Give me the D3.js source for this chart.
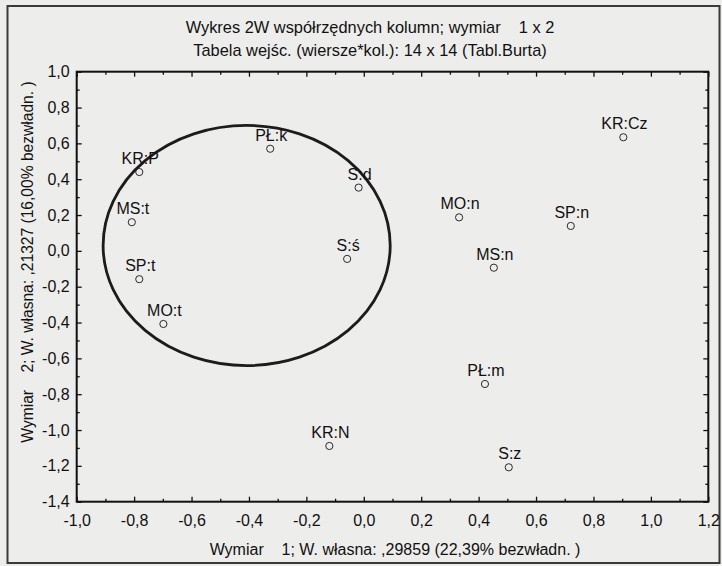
<!DOCTYPE html>
<html>
<head>
<meta charset="utf-8">
<script src="https://cdn.jsdelivr.net/npm/d3@7"></script>
<style>
  body { margin: 0; background: #ededeb; }
  svg { display: block; font-family: "Liberation Sans", Arial, sans-serif; }
  text { white-space: pre; fill: #111; }
</style>
</head>
<body>
<svg id="chart" width="722" height="566"></svg>
<script>
// column points (dimension 1 / dimension 2)
const labels = ["KR:Cz", "PŁ:k", "KR:P", "S:d", "MS:t", "MO:n", "SP:n", "S:ś", "SP:t", "MS:n", "MO:t", "PŁ:m", "KR:N", "S:z"];
const dim1 = [0.904, -0.326, -0.782, -0.018, -0.808, 0.332, 0.721, -0.058, -0.782, 0.453, -0.698, 0.422, -0.120, 0.505];
const dim2 = [0.634, 0.570, 0.440, 0.353, 0.160, 0.187, 0.139, -0.045, -0.158, -0.094, -0.408, -0.743, -1.089, -1.208];

const xTicks = [-1.0, -0.8, -0.6, -0.4, -0.2, 0.0, 0.2, 0.4, 0.6, 0.8, 1.0, 1.2];
const yTicks = [1.0, 0.8, 0.6, 0.4, 0.2, 0.0, -0.2, -0.4, -0.6, -0.8, -1.0, -1.2, -1.4];
const xMinor = [-0.9, -0.7, -0.5, -0.3, -0.1, 0.1, 0.3, 0.5, 0.7, 0.9, 1.1];
const yMinor = [0.9, 0.7, 0.5, 0.3, 0.1, -0.1, -0.3, -0.5, -0.7, -0.9, -1.1, -1.3];

// hand-drawn grouping ellipse, in data units
const ellCx = -0.408, ellCy = 0.030, ellRx = 0.50, ellRy = 0.67;

const titleLines = [
  "Wykres 2W współrzędnych kolumn; wymiar    1 x 2",
  "Tabela wejśc. (wiersze*kol.): 14 x 14 (Tabl.Burta)"
];
const xTitle = "Wymiar    1; W. własna: ,29859 (22,39% bezwładn. )";
const yTitle = "Wymiar    2; W. własna: ,21327 (16,00% bezwładn. )";

const svg = d3.select("#chart");
const m = { left: 76.7, right: 708.3, top: 71.7, bottom: 501.7 };

const x = d3.scaleLinear().domain([-1, 1.2]).range([m.left, m.right]);
const y = d3.scaleLinear().domain([-1.4, 1.0]).range([m.bottom, m.top]);
const fmt = d3.formatLocale({ decimal: ",", thousands: " ", grouping: [3], currency: ["", ""], minus: "-" }).format(".1f");

// outer frame
svg.append("rect").attr("x", 7.5).attr("y", 6).attr("width", 712).attr("height", 557)
  .attr("fill", "none").attr("stroke", "#3a3a3a").attr("stroke-width", 2);

// titles
svg.selectAll("text.title").data(titleLines).join("text").attr("class", "title")
  .attr("x", 370).attr("y", (d, i) => 33 + i * 23)
  .attr("text-anchor", "middle").attr("font-size", 16.4).text(d => d);

// axes: labelled majors, inward ticks
const styleAxis = g => { g.select(".domain").remove(); g.selectAll("line").attr("stroke", "#111").attr("stroke-width", 1.3); };
const styleText = g => g.selectAll("text").attr("font-size", 16).attr("font-family", null).attr("fill", "#111");

svg.append("g").attr("transform", `translate(0,${m.bottom})`)
  .call(d3.axisBottom(x).tickValues(xTicks).tickFormat(fmt).tickSizeInner(-5).tickPadding(13))
  .call(styleAxis).call(styleText);
svg.append("g").attr("transform", `translate(${m.left},0)`)
  .call(d3.axisLeft(y).tickValues(yTicks).tickFormat(fmt).tickSizeInner(-5).tickPadding(7))
  .call(styleAxis).call(styleText);
svg.append("g").attr("transform", `translate(0,${m.top})`)
  .call(d3.axisTop(x).tickValues(xTicks).tickFormat("").tickSizeInner(-5)).call(styleAxis);
svg.append("g").attr("transform", `translate(${m.right},0)`)
  .call(d3.axisRight(y).tickValues(yTicks).tickFormat("").tickSizeInner(-5)).call(styleAxis);

// minor ticks
svg.append("g").attr("transform", `translate(0,${m.bottom})`)
  .call(d3.axisBottom(x).tickValues(xMinor).tickFormat("").tickSizeInner(-3)).call(styleAxis);
svg.append("g").attr("transform", `translate(0,${m.top})`)
  .call(d3.axisTop(x).tickValues(xMinor).tickFormat("").tickSizeInner(-3)).call(styleAxis);
svg.append("g").attr("transform", `translate(${m.left},0)`)
  .call(d3.axisLeft(y).tickValues(yMinor).tickFormat("").tickSizeInner(-3)).call(styleAxis);
svg.append("g").attr("transform", `translate(${m.right},0)`)
  .call(d3.axisRight(y).tickValues(yMinor).tickFormat("").tickSizeInner(-3)).call(styleAxis);

// plot box
svg.append("rect").attr("x", m.left).attr("y", m.top)
  .attr("width", m.right - m.left).attr("height", m.bottom - m.top)
  .attr("fill", "none").attr("stroke", "#111").attr("stroke-width", 2);

// axis titles
svg.append("text").attr("x", 395).attr("y", 555).attr("text-anchor", "middle")
  .attr("font-size", 16).text(xTitle);
svg.append("text").attr("transform", "translate(33,262) rotate(-90)")
  .attr("text-anchor", "middle").attr("font-size", 15.6).text(yTitle);

// ellipse
svg.append("ellipse")
  .attr("cx", x(ellCx)).attr("cy", y(ellCy))
  .attr("rx", x(ellCx + ellRx) - x(ellCx)).attr("ry", y(ellCy) - y(ellCy + ellRy))
  .attr("fill", "none").attr("stroke", "#1c1c1c").attr("stroke-width", 2.8);

// points and labels
const pts = labels.map((l, i) => ({ label: l, d1: dim1[i], d2: dim2[i] }));
svg.selectAll("circle.pt").data(pts).join("circle").attr("class", "pt")
  .attr("cx", d => x(d.d1)).attr("cy", d => y(d.d2)).attr("r", 3.6)
  .attr("fill", "none").attr("stroke", "#2a2a2a").attr("stroke-width", 1);
svg.selectAll("text.lbl").data(pts).join("text").attr("class", "lbl")
  .attr("x", d => x(d.d1) + 1).attr("y", d => y(d.d2) - 8)
  .attr("text-anchor", "middle").attr("font-size", 16).text(d => d.label);
</script>
</body>
</html>
